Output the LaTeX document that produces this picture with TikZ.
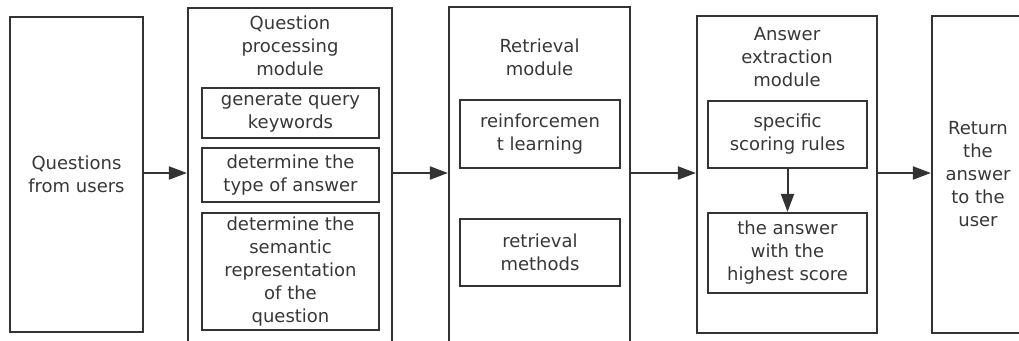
\documentclass[tikz,border=0pt]{standalone}
\usepackage{fontspec}
\setmainfont{DejaVu Sans}
\usetikzlibrary{arrows.meta,positioning}
\definecolor{qaline}{RGB}{51,51,51}
\definecolor{qatext}{RGB}{55,55,55}

\begin{document}
\begin{tikzpicture}[x=1pt, y=1pt, >={Triangle[length=18pt,width=13pt]},
    box/.style={draw=qaline, line width=2.2pt, rectangle, inner sep=0pt, align=center, text=qatext, font=\fontsize{18}{23}\selectfont},
    label/.style={inner sep=0pt, align=center, text=qatext, font=\fontsize{18}{23}\selectfont},
    flow/.style={->, draw=qaline, line width=2pt}]
    \clip (0,0) rectangle (1019,340);
    \coordinate (mid) at (0,167);

    % Outer stages
    \node[box, minimum width=133, minimum height=315] (quser) at (76.5,165.5) {Questions\\from users};
    \node[box, minimum width=204, minimum height=337] (qproc) at (290,163.5) {};
    \node[box, minimum width=181, minimum height=338] (retr) at (539.5,164) {};
    \node[box, minimum width=180, minimum height=317] (aext) at (787,165.5) {};
    \node[box, minimum width=92, minimum height=317] (ret) at (978,165.5) {Return\\the\\answer\\to the\\user};

    % Question processing
    \node[label] (qtitle) at (290,294) {Question\\processing\\module};
    \node[box, minimum width=177, minimum height=50] (qp1) at (290.5,227) {generate query\\keywords};
    \node[box, minimum width=177, minimum height=54] (qp2) at (290.5,165) {determine the\\type of answer};
    \node[box, minimum width=177, minimum height=117] (qp3) at (290.5,68.5) {determine the\\semantic\\representation\\of the\\question};

    % Retrieval
    \node[label] (rtitle) at (539.5,282.5) {Retrieval\\module};
    \node[box, minimum width=160, minimum height=68] (rt1) at (540,206) {reinforcemen\\t learning};
    \node[box, minimum width=160, minimum height=67] (rt2) at (540,87.5) {retrieval\\methods};

    % Answer extraction
    \node[label] (atitle) at (787,282.5) {Answer\\extraction\\module};
    \node[box, minimum width=159, minimum height=67] (ae1) at (787.5,205.5) {specific\\scoring rules};
    \node[box, minimum width=159, minimum height=80] (ae2) at (787.5,87) {the answer\\with the\\highest score};

    \draw[flow] (quser.east |- mid) -- (qproc.west |- mid);
    \draw[flow] (qproc.east |- mid) -- (retr.west |- mid);
    \draw[flow] (retr.east |- mid) -- (aext.west |- mid);
    \draw[flow] (aext.east |- mid) -- (ret.west |- mid);
    \draw[flow] (ae1) -- (ae2);
\end{tikzpicture}
\end{document}
